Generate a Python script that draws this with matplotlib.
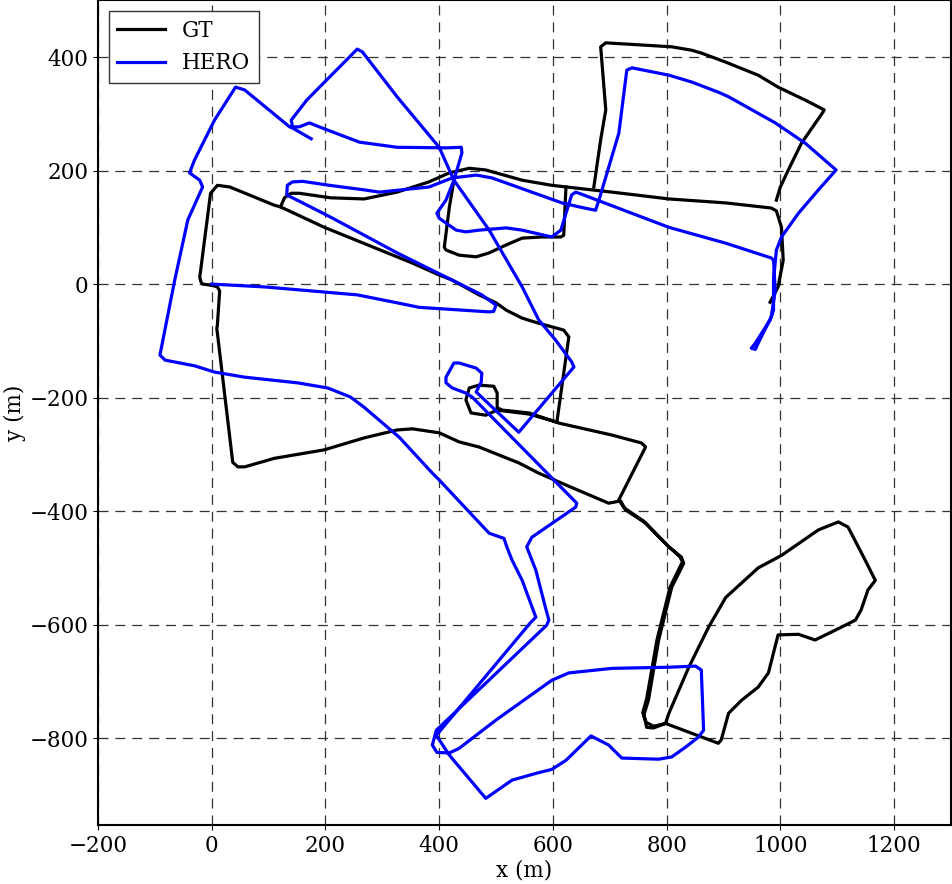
import numpy as np
import matplotlib.pyplot as plt

plt.rcParams['font.family'] = 'DejaVu Serif'
plt.rcParams['font.size'] = 15.5

# Ground truth trajectory (m), split into the pieces that branch off the main loop
gt_main_x = [0, 10, 14, 10, 9, 37, 46, 58, 110, 198, 268, 326, 353, 400, 435, 470, 540, 575, 623, 698, 719,
             728, 763, 804, 826, 830, 809, 786, 768, 760, 765, 777, 798, 891, 896, 909, 932, 961, 979, 996,
             1032, 1061, 1096, 1132, 1142, 1154, 1167, 1149, 1119, 1102, 1067, 1002, 961, 904, 874, 839, 804, 798,
             777, 764, 758, 765, 783, 806, 828, 823, 801, 760, 725, 716,
             763, 756, 704, 611, 558, 511, 502, 502, 496, 470, 453, 447, 456, 482, 502, 558, 607,
             628, 619, 575, 546, 518, 500, 470, 423, 400, 353, 326, 198, 121, 110, 32, 10, -2, -21, -19, -16, 0]
gt_main_y = [-2, -5, -12, -72, -78, -314, -322, -322, -307, -292, -271, -257, -255, -262, -278, -287, -315, -333, -354, -386, -382,
             -398, -421, -463, -481, -492, -534, -627, -733, -759, -781, -782, -774, -809, -803, -756, -733, -710, -685, -618,
             -617, -627, -610, -592, -574, -539, -522, -486, -428, -419, -433, -478, -500, -552, -604, -675, -756, -774,
             -779, -772, -755, -730, -627, -534, -489, -480, -460, -418, -394, -380,
             -287, -280, -266, -245, -227, -222, -218, -192, -180, -178, -183, -204, -227, -231, -222, -229, -243,
             -93, -81, -69, -60, -46, -33, -19, 7, 16, 37, 48, 100, 136, 139, 171, 174, 160, 12, 4, 0, -2]

gt_upper_x = [121, 128, 140, 154, 209, 268, 326, 382, 418, 453, 482, 546, 598, 668, 704, 804, 904, 984, 993,
              1002, 1005, 996, 982]
gt_upper_y = [136, 152, 160, 160, 152, 150, 162, 180, 196, 204, 201, 183, 174, 166, 162, 150, 143, 134, 129,
              100, 42, -5, -32]

gt_ne_x = [993, 1000, 1014, 1037, 1075, 1077, 1044, 996, 961, 904, 861, 844, 809, 693, 684, 693, 684, 672]
gt_ne_y = [148, 171, 201, 248, 303, 307, 324, 347, 368, 391, 407, 412, 418, 425, 418, 307, 254, 171]

gt_mid_x = [623, 619, 614, 581, 546, 518, 488, 465, 435, 412, 409, 418, 426]
gt_mid_y = [171, 86, 83, 83, 81, 69, 55, 48, 51, 60, 65, 136, 183]

# HERO estimate (m)
hero_x = [0, 93, 198, 256, 326, 365, 412, 488, 496, 500, 475, 423, 326, 209, 160, 132, 133, 142, 160, 207,
          268, 295, 382, 423, 465, 493, 616, 646, 675, 681, 716, 730, 739, 804, 844, 891, 909, 991, 1044, 1098,
          1067, 1032, 1002, 993, 988, 988, 982, 956, 949, 956, 961, 984, 991, 988, 984, 904, 804, 646, 640, 633,
          614, 598, 546, 518, 470, 447, 430, 400, 396, 412, 426, 440, 439, 412, 326, 260, 189, 172, 154, 142,
          140, 167, 256, 265, 326, 400, 426, 488, 546, 575, 605, 633, 637, 540, 465, 474, 475, 465, 435, 426,
          412, 412, 423, 447, 458, 642, 640, 563, 554, 570, 588, 593, 589, 395, 388, 396, 418, 435, 500,
          598, 628, 704, 804, 851, 861, 865, 856, 833, 809, 786, 721, 698, 667, 623, 598, 570, 528, 482, 418,
          395, 561, 570, 546, 528, 519, 514, 488, 400, 388, 330, 295, 268, 244, 204, 151, 58, 5, -30, -82,
          -91, -65, -42, -16, -21, -39, -30, 5, 42, 58, 137, 142, 175]
hero_y = [0, -5, -14, -19, -33, -41, -44, -49, -48, -37, -19, 7, 55, 118, 143, 157, 174, 180, 181, 174,
          166, 162, 171, 187, 192, 187, 143, 136, 130, 148, 266, 377, 381, 368, 356, 338, 330, 284, 248, 201,
          166, 125, 83, 60, 7, -46, -63, -104, -113, -115, -104, -58, -11, 42, 46, 72, 100, 160, 162, 157,
          95, 83, 95, 99, 95, 92, 95, 116, 125, 148, 183, 231, 241, 240, 241, 250, 277, 284, 277, 277,
          289, 324, 414, 409, 330, 241, 183, 95, -5, -63, -99, -137, -146, -261, -190, -173, -157, -148, -139, -139,
          -164, -174, -183, -192, -199, -386, -393, -446, -463, -504, -574, -592, -601, -786, -812, -825, -826, -818, -768,
          -698, -685, -677, -675, -673, -680, -786, -798, -816, -833, -837, -835, -812, -796, -839, -855, -862, -874, -906, -830,
          -795, -596, -587, -522, -486, -463, -448, -439, -345, -333, -270, -240, -217, -199, -183, -174, -164, -155, -144, -134,
          -125, 7, 113, 171, 183, 196, 219, 289, 347, 342, 277, 275, 256]

fig = plt.figure(figsize=(9.52, 8.84), dpi=100)
ax = fig.add_axes([0.1029, 0.0667, 0.896, 0.933])

for i, (xs, ys) in enumerate([(gt_main_x, gt_main_y), (gt_upper_x, gt_upper_y),
                              (gt_ne_x, gt_ne_y), (gt_mid_x, gt_mid_y)]):
    ax.plot(xs, ys, color='k', lw=2.3, solid_joinstyle='round',
            label='GT' if i == 0 else None, zorder=3)
ax.plot(hero_x, hero_y, color='#0000ff', lw=2.3, solid_joinstyle='round', label='HERO', zorder=4)

ax.set_xlim(-200, 1300)
ax.set_ylim(-953, 500)
ax.set_xticks(np.arange(-200, 1301, 200))
ax.set_yticks(np.arange(-800, 401, 200))
ax.grid(True, color='#333333', lw=0.9, linestyle=(0, (8, 5.5)))
ax.set_axisbelow(True)
for s in ax.spines.values():
    s.set_linewidth(1.5)

ax.set_xlabel('x (m)', labelpad=2)
ax.set_ylabel('y (m)', labelpad=2)

leg = ax.legend(loc='upper left', fancybox=False, edgecolor='#333333',
                framealpha=1, handlelength=2.2)
leg.get_frame().set_linewidth(1.0)

fig.savefig('out.png', dpi=100)
